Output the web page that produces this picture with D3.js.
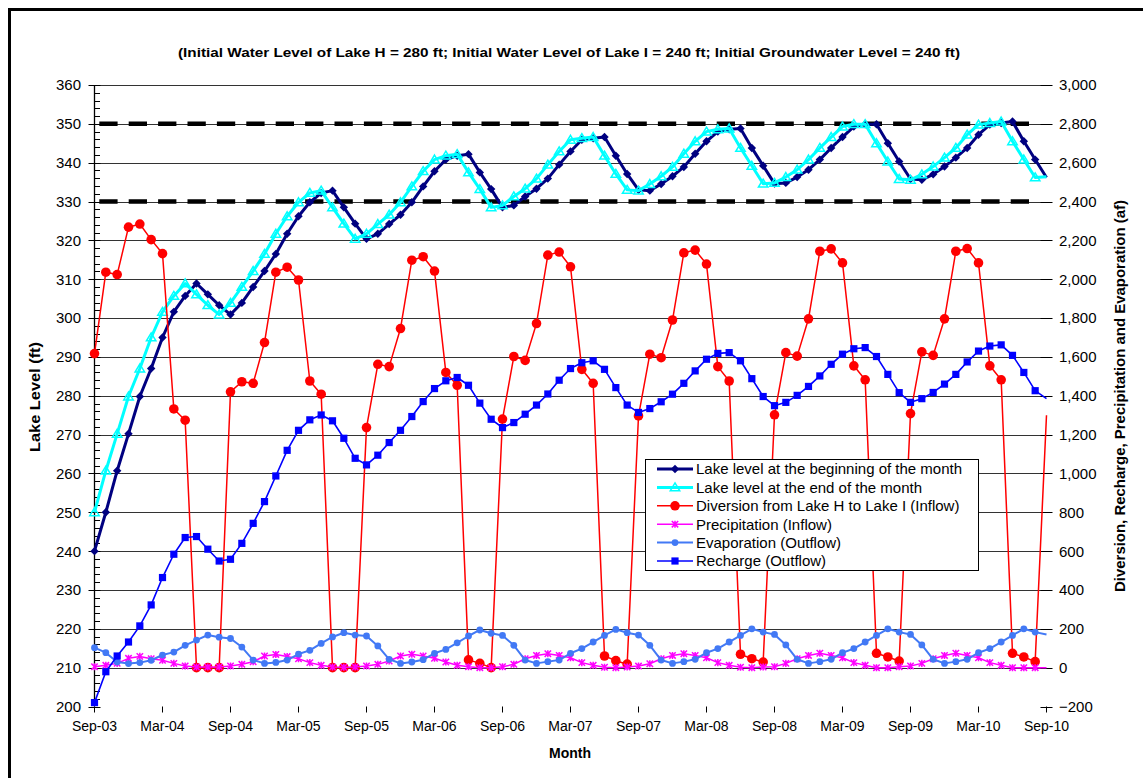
<!DOCTYPE html>
<html><head><meta charset="utf-8">
<script src="https://cdn.jsdelivr.net/npm/d3@7"></script>
<style>
html,body{margin:0;padding:0;background:#fff;}
svg{display:block;font-family:"Liberation Sans",Arial,sans-serif;}
</style></head>
<body>
<svg id="chart" width="1143" height="778"></svg>
<script>
// ---------- DATA ----------
const months = d3.timeMonth.range(new Date(2003, 8, 1), new Date(2010, 9, 1)).map(d3.timeFormat("%b-%y"));
const tickLabels = ["Sep-03","Mar-04","Sep-04","Mar-05","Sep-05","Mar-06","Sep-06","Mar-07","Sep-07","Mar-08","Sep-08","Mar-09","Sep-09","Mar-10","Sep-10"];
const leftTicks = [200,210,220,230,240,250,260,270,280,290,300,310,320,330,340,350,360];
const rightTicks = [-200,0,200,400,600,800,1000,1200,1400,1600,1800,2000,2200,2400,2600,2800,3000];

const levelBegin = [240,250,260.7,270.2,279.8,287.0,295.0,301.6,305.7,308.9,306.1,303.3,
  300.9,303.9,308.0,312.1,316.5,321.7,326.2,329.8,332.2,332.8,328.5,324.3,
  320.4,321.7,324.2,326.6,329.8,333.9,337.8,340.8,341.8,342.2,337.5,333.2,
  328.5,329.0,331.3,333.3,335.9,339.5,342.9,345.9,346.3,346.6,341.8,337.1,
  333.0,332.8,334.5,336.5,338.9,342.3,345.5,348.0,348.6,348.8,343.8,339.2,
  334.6,334.8,336.3,338.2,340.8,343.8,346.6,349.3,349.9,349.9,345.0,340.3,
  335.8,335.6,337.0,339.0,341.3,343.8,347.2,349.8,350.2,350.6,345.5,340.8,
  336.2];
const levelEnd = [250,260.7,270.2,279.8,287.0,295.0,301.6,305.7,308.9,306.1,303.3,300.9,
  303.9,308.0,312.1,316.5,321.7,326.2,329.8,332.2,332.8,328.5,324.3,320.4,
  321.7,324.2,326.6,329.8,333.9,337.8,340.8,341.8,342.2,337.5,333.2,328.5,
  329.0,331.3,333.3,335.9,339.5,342.9,345.9,346.3,346.6,341.8,337.1,333.0,
  332.8,334.5,336.5,338.9,342.3,345.5,348.0,348.6,348.8,343.8,339.2,334.6,
  334.8,336.3,338.2,340.8,343.8,346.6,349.3,349.9,349.9,345.0,340.3,335.8,
  335.6,337.0,339.0,341.3,343.8,347.2,349.8,350.2,350.6,345.5,340.8,336.2,
  336.4];
const diversion = [1617,2036,2024,2268,2284,2204,2132,1332,1274,0,0,0,
  1420,1472,1464,1674,2036,2062,1996,1476,1408,0,0,0,
  1236,1562,1550,1746,2098,2116,2042,1520,1454,40,22,0,
  1280,1602,1582,1772,2124,2140,2064,1536,1464,60,36,18,
  1296,1614,1596,1790,2136,2150,2078,1550,1476,69,46,29,
  1302,1622,1604,1796,2144,2156,2084,1554,1482,74,55,34,
  1308,1626,1608,1796,2144,2158,2084,1554,1482,74,55,31,
  1300];
const precipitation = [5,12,22,48,58,46,38,22,9,3,3,4,
  9,17,30,60,68,57,46,26,12,3,2,3,
  9,17,34,60,69,60,48,29,12,5,0,0,
  5,17,46,63,72,63,51,26,12,2,0,3,
  8,20,46,63,72,63,51,26,12,2,0,3,
  5,22,46,63,74,63,51,26,12,0,0,5,
  9,22,46,63,74,63,51,26,12,0,0,0,
  0];
const evaporation = [103,77,29,21,26,38,65,80,115,142,168,157,
  150,106,39,22,27,39,70,89,125,158,180,168,
  163,112,43,22,29,41,74,94,128,163,194,177,
  166,115,39,22,31,39,74,98,132,166,197,180,
  168,115,39,22,31,43,77,98,132,166,200,183,
  171,117,43,22,31,43,77,98,132,166,200,183,
  171,117,43,22,31,43,77,98,132,166,200,183,
  171];
const recharge = [-180,-21,60,132,215,323,464,584,670,675,610,549,
  558,640,743,855,987,1119,1222,1276,1301,1271,1181,1078,
  1044,1094,1159,1222,1293,1370,1437,1477,1494,1454,1362,1279,
  1236,1262,1305,1352,1409,1480,1540,1570,1580,1536,1442,1352,
  1314,1334,1369,1408,1464,1528,1588,1618,1622,1580,1488,1396,
  1349,1366,1402,1448,1502,1562,1614,1642,1648,1602,1510,1416,
  1366,1385,1417,1460,1510,1574,1630,1656,1662,1608,1520,1426,
  1385];
const limitLevels = [350, 330];

const seriesNames = ["Lake level at the beginning of the month","Lake level at the end of the month",
  "Diversion from Lake H to Lake I (Inflow)","Precipitation (Inflow)","Evaporation (Outflow)","Recharge (Outflow)"];

// ---------- LAYOUT ----------
const svg = d3.select("#chart");
const L = 94.5, R = 1046.5, T = 85, B = 706.5;
const x = d3.scalePoint().domain(months).range([L, R]);
const yL = d3.scaleLinear().domain([200, 360]).range([B, T]);
const yR = d3.scaleLinear().domain([-200, 3000]).range([B, T]);

svg.append("rect").attr("width",1143).attr("height",778).attr("fill","#fff");
svg.append("rect").attr("x",9.5).attr("y",9.5).attr("width",1300).attr("height",900)
  .attr("fill","none").attr("stroke","#000").attr("stroke-width",3);

// gridlines
svg.append("g").selectAll("line").data(leftTicks.filter(v => v > 200)).join("line")
  .attr("x1", L).attr("x2", R).attr("y1", d => Math.round(yL(d)) + 0.5).attr("y2", d => Math.round(yL(d)) + 0.5)
  .attr("stroke", "#333").attr("stroke-width", 1);

// dashed limit lines
const limitMonths = months.slice(0, 84);
limitLevels.forEach(v => {
  svg.append("path")
    .attr("d", d3.line().x(m => x(m)).y(() => yL(v))(limitMonths))
    .attr("fill","none").attr("stroke","#000").attr("stroke-width",4.5)
    .attr("stroke-dasharray","18.3,11.1").attr("stroke-dashoffset",24.6);
});

// axes
const minorTicks = d3.range(200, 361, 2);
const gAxL = svg.append("g");
gAxL.append("line").attr("x1",L).attr("x2",L).attr("y1",T).attr("y2",B).attr("stroke","#000").attr("stroke-width",1.3);
gAxL.selectAll("line.minor").data(minorTicks).join("line").attr("class","minor")
  .attr("x1",L).attr("x2",L+5.5).attr("y1",d=>Math.round(yL(d))+0.5).attr("y2",d=>Math.round(yL(d))+0.5)
  .attr("stroke","#000").attr("stroke-width",1);
gAxL.selectAll("line.major").data(leftTicks).join("line").attr("class","major")
  .attr("x1",L-6).attr("x2",L+6).attr("y1",d=>Math.round(yL(d))+0.5).attr("y2",d=>Math.round(yL(d))+0.5)
  .attr("stroke","#000").attr("stroke-width",1);
gAxL.selectAll("text").data(leftTicks).join("text")
  .attr("x", 81).attr("y", d => yL(d)).attr("dy","0.36em").attr("text-anchor","end")
  .attr("font-size", 15).text(d => d);

const gAxR = svg.append("g");
gAxR.append("line").attr("x1",R).attr("x2",R).attr("y1",T).attr("y2",B).attr("stroke","#000").attr("stroke-width",1.3);
gAxR.selectAll("line").data(rightTicks).join("line")
  .attr("x1",R-6).attr("x2",R+6).attr("y1",d=>Math.round(yR(d))+0.5).attr("y2",d=>Math.round(yR(d))+0.5)
  .attr("stroke","#000").attr("stroke-width",1);
gAxR.selectAll("text").data(rightTicks).join("text")
  .attr("x", 1059).attr("y", d => yR(d)).attr("dy","0.36em").attr("text-anchor","start")
  .attr("font-size", 15).text(d => d3.format(",")(d));

const gAxB = svg.append("g");
gAxB.append("line").attr("x1",L).attr("x2",R).attr("y1",B).attr("y2",B).attr("stroke","#000").attr("stroke-width",1.3);
gAxB.selectAll("line").data(tickLabels).join("line")
  .attr("x1",d=>x(d)).attr("x2",d=>x(d)).attr("y1",B).attr("y2",B+6).attr("stroke","#000").attr("stroke-width",1);
gAxB.selectAll("text").data(tickLabels).join("text")
  .attr("x",d=>x(d)).attr("y",731).attr("text-anchor","middle").attr("font-size",14).text(d=>d);

// titles
svg.append("text").attr("x",569).attr("y",57).attr("text-anchor","middle").attr("font-weight","bold")
  .attr("font-size",12.5).attr("textLength",782).attr("lengthAdjust","spacingAndGlyphs")
  .text("(Initial Water Level of Lake H = 280 ft; Initial Water Level of Lake I = 240 ft; Initial Groundwater Level = 240 ft)");
svg.append("text").attr("x",570).attr("y",758).attr("text-anchor","middle").attr("font-weight","bold")
  .attr("font-size",14).text("Month");
svg.append("text").attr("transform","translate(40,397) rotate(-90)").attr("text-anchor","middle").attr("font-weight","bold")
  .attr("font-size",15).attr("textLength",110).attr("lengthAdjust","spacingAndGlyphs").text("Lake Level (ft)");
svg.append("text").attr("transform","translate(1125,396) rotate(-90)").attr("text-anchor","middle").attr("font-weight","bold")
  .attr("font-size",14).attr("textLength",392).attr("lengthAdjust","spacingAndGlyphs")
  .text("Diversion, Recharge, Precipitation and Evaporation (af)");

// ---------- SERIES ----------
const diamond = s => `M0,${-s}L${s},0L0,${s}L${-s},0Z`;
const triangle = s => `M0,${-s}L${s*1.05},${s*0.75}L${-s*1.05},${s*0.75}Z`;
const star = s => `M${-s},${-s}L${s},${s}M${-s},${s}L${s},${-s}M0,${-s*1.1}L0,${s*1.1}`;
const square = s => `M${-s},${-s}H${s}V${s}H${-s}Z`;

const series = [
  {name: seriesNames[0], vals: levelBegin, y: yL, color:"#000080", width:3, marker:"diamond"},
  {name: seriesNames[1], vals: levelEnd, y: yL, color:"#00FFFF", width:3, marker:"triangle"},
  {name: seriesNames[2], vals: diversion, y: yR, color:"#FF0000", width:1.5, marker:"circle"},
  {name: seriesNames[3], vals: precipitation, y: yR, color:"#FF00FF", width:1.5, marker:"star"},
  {name: seriesNames[4], vals: evaporation, y: yR, color:"#4279F5", width:2, marker:"dot"},
  {name: seriesNames[5], vals: recharge, y: yR, color:"#0000FF", width:1.6, marker:"square"}
];

function drawMarker(g, type, color) {
  if (type === "diamond") g.append("path").attr("d", diamond(4.2)).attr("fill", color);
  else if (type === "triangle") g.append("path").attr("d", triangle(4.5)).attr("fill","none").attr("stroke",color).attr("stroke-width",1.5);
  else if (type === "circle") g.append("circle").attr("r",4.8).attr("fill",color);
  else if (type === "star") g.append("path").attr("d", star(3.2)).attr("fill","none").attr("stroke",color).attr("stroke-width",1.5);
  else if (type === "dot") g.append("circle").attr("r",3.4).attr("fill",color);
  else if (type === "square") g.append("path").attr("d", square(3.6)).attr("fill",color);
}

series.forEach(s => {
  const g = svg.append("g");
  const line = d3.line().x((d,i) => x(months[i])).y(d => s.y(d));
  g.append("path").attr("d", line(s.vals)).attr("fill","none").attr("stroke", s.color)
    .attr("stroke-width", s.width).attr("stroke-linejoin","round");
  s.vals.forEach((v,i) => {
    if (i === s.vals.length - 1) return; // last month shows no marker in the original
    const m = g.append("g").attr("transform", `translate(${x(months[i])},${s.y(v)})`);
    drawMarker(m, s.marker, s.color);
  });
});

// ---------- LEGEND ----------
const lg = svg.append("g");
lg.append("rect").attr("x",645.5).attr("y",459.5).attr("width",333).attr("height",111)
  .attr("fill","#fff").attr("stroke","#000").attr("stroke-width",1);
series.forEach((s,i) => {
  const yy = 469 + i * 18.4;
  lg.append("line").attr("x1",657).attr("x2",693).attr("y1",yy).attr("y2",yy)
    .attr("stroke",s.color).attr("stroke-width",s.width);
  const m = lg.append("g").attr("transform",`translate(675,${yy})`);
  drawMarker(m, s.marker, s.color);
  lg.append("text").attr("x",696).attr("y",yy).attr("dy","0.36em").attr("font-size",15).text(s.name);
});
</script>
</body></html>
